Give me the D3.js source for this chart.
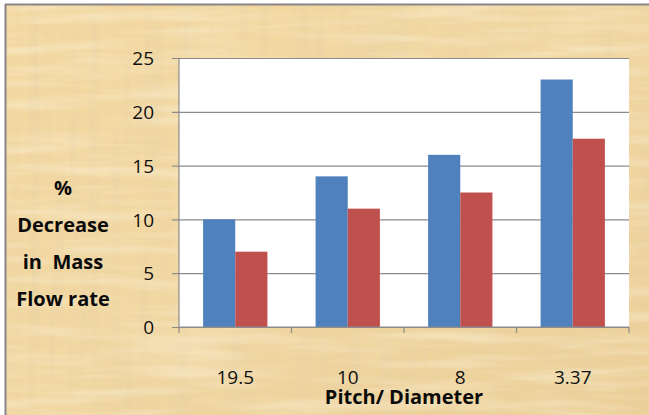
<!DOCTYPE html>
<html>
<head>
<meta charset="utf-8">
<script src="https://cdn.jsdelivr.net/npm/d3@7"></script>
<style>
  html, body { margin: 0; padding: 0; background: #fff; }
  svg { display: block; }
</style>
</head>
<body>
<svg></svg>
<script>
var w = 649;
var h = 415;

// chart values
var categories = ["19.5", "10", "8", "3.37"];
var seriesA = [10, 14, 16, 23];      // blue
var seriesB = [7, 11, 12.5, 17.5];   // red
var yTicks = [0, 5, 10, 15, 20, 25];
var yTitle = ["%", "Decrease", "in  Mass", "Flow rate"];
var xTitle = "Pitch/ Diameter";

var plot = {left: 179, right: 629, top: 58, bottom: 327};
var font = "'Open Sans', 'Noto Sans', sans-serif";

var svg = d3.select("svg")
    .attr("width", w)
    .attr("height", h);

// parchment texture (feTurbulence streaks over a tan base)
var defs = svg.append("defs");
var bg = defs.append("linearGradient")
    .attr("id", "paper")
    .attr("x1", "0%").attr("y1", "0%")
    .attr("x2", "100%").attr("y2", "100%");
bg.append("stop").attr("offset", "0%").attr("stop-color", "#f3d8a0");
bg.append("stop").attr("offset", "50%").attr("stop-color", "#f1d7a2");
bg.append("stop").attr("offset", "100%").attr("stop-color", "#ebcf98");

var f1 = defs.append("filter").attr("id", "fibersV")
    .attr("x", 0).attr("y", 0).attr("width", "100%").attr("height", "100%");
f1.append("feTurbulence")
    .attr("type", "fractalNoise")
    .attr("baseFrequency", "0.1 0.006")
    .attr("numOctaves", 3)
    .attr("seed", 4);
f1.append("feColorMatrix")
    .attr("type", "matrix")
    .attr("values", "0 0 0 0 0.80  0 0 0 0 0.64  0 0 0 0 0.38  2.4 0 0 0 -1.0");

var f2 = defs.append("filter").attr("id", "fibersH")
    .attr("x", 0).attr("y", 0).attr("width", "100%").attr("height", "100%");
f2.append("feTurbulence")
    .attr("type", "fractalNoise")
    .attr("baseFrequency", "0.008 0.09")
    .attr("numOctaves", 3)
    .attr("seed", 11);
f2.append("feColorMatrix")
    .attr("type", "matrix")
    .attr("values", "0 0 0 0 1  0 0 0 0 0.94  0 0 0 0 0.78  2.2 0 0 0 -0.9");

svg.append("rect")
    .attr("x", 5).attr("y", 4)
    .attr("width", w - 5).attr("height", h - 4)
    .style("fill", "url(#paper)");
svg.append("rect")
    .attr("x", 5).attr("y", 4)
    .attr("width", w - 5).attr("height", h - 4)
    .attr("opacity", 0.55)
    .attr("filter", "url(#fibersV)");
svg.append("rect")
    .attr("x", 5).attr("y", 4)
    .attr("width", w - 5).attr("height", h - 4)
    .attr("opacity", 0.38)
    .attr("filter", "url(#fibersH)");

// grey frame on top and left
svg.append("line")
    .attr("x1", 5).attr("x2", w).attr("y1", 4.5).attr("y2", 4.5)
    .attr("stroke", "#8a8388").attr("stroke-width", 2);
svg.append("line")
    .attr("x1", 5.5).attr("x2", 5.5).attr("y1", 4).attr("y2", h)
    .attr("stroke", "#8a8388").attr("stroke-width", 2);

// scales
var x0 = d3.scaleBand()
    .domain(categories)
    .range([plot.left, plot.right])
    .paddingInner(0)
    .paddingOuter(0);
var x1 = d3.scaleBand()
    .domain(["a", "b"])
    .range([0, x0.bandwidth()])
    .paddingOuter(0.75)
    .paddingInner(0);
var y = d3.scaleLinear()
    .domain([0, 25])
    .range([plot.bottom, plot.top]);

// plot area
svg.append("rect")
    .attr("x", plot.left).attr("y", plot.top)
    .attr("width", plot.right - plot.left)
    .attr("height", plot.bottom - plot.top)
    .attr("fill", "#fff");

// gridlines + y axis
var yAxis = d3.axisLeft(y)
    .tickValues(yTicks)
    .tickFormat(d3.format("d"));
var gy = svg.append("g")
    .attr("transform", "translate(" + plot.right + ",0)");
gy.call(yAxis.tickSize(plot.right - plot.left + 7));
gy.select(".domain").remove();
gy.selectAll(".tick line")
    .attr("stroke", "#8c8c8c")
    .attr("stroke-width", 1.2);
gy.selectAll(".tick text")
    .attr("x", -(plot.right - plot.left) - 25)
    .attr("dy", "0.35em")
    .attr("fill", "#111")
    .style("font-family", font)
    .style("font-size", "19px");

svg.append("line")
    .attr("x1", plot.left).attr("x2", plot.left)
    .attr("y1", plot.top).attr("y2", plot.bottom)
    .attr("stroke", "#8c8c8c").attr("stroke-width", 1.2);

// bars
var groups = svg.selectAll("g.cat")
    .data(categories)
    .join("g")
    .attr("class", "cat")
    .attr("transform", function(d) { return "translate(" + x0(d) + ",0)"; });

groups.append("rect")
    .attr("x", x1("a"))
    .attr("width", x1.bandwidth())
    .attr("y", function(d, i) { return y(seriesA[i]); })
    .attr("height", function(d, i) { return y(0) - y(seriesA[i]); })
    .attr("fill", "#4f81bd");

groups.append("rect")
    .attr("x", x1("b"))
    .attr("width", x1.bandwidth())
    .attr("y", function(d, i) { return y(seriesB[i]); })
    .attr("height", function(d, i) { return y(0) - y(seriesB[i]); })
    .attr("fill", "#c0504d");

// x axis with boundary ticks
var gx = svg.append("g")
    .attr("transform", "translate(0," + plot.bottom + ")");
gx.append("line")
    .attr("x1", plot.left).attr("x2", plot.right)
    .attr("stroke", "#8c8c8c").attr("stroke-width", 1.2);
var bounds = categories.map(function(d) { return x0(d); }).concat([plot.right]);
gx.selectAll("line.b")
    .data(bounds)
    .join("line")
    .attr("class", "b")
    .attr("x1", function(d) { return d; })
    .attr("x2", function(d) { return d; })
    .attr("y1", 0).attr("y2", 6)
    .attr("stroke", "#8c8c8c").attr("stroke-width", 1.2);
gx.selectAll("text.lab")
    .data(categories)
    .join("text")
    .attr("class", "lab")
    .attr("x", function(d) { return x0(d) + x0.bandwidth() / 2; })
    .attr("y", 57)
    .attr("text-anchor", "middle")
    .attr("fill", "#111")
    .style("font-family", font)
    .style("font-size", "19px")
    .text(function(d) { return d; });

// axis titles
svg.append("text")
    .attr("x", 404)
    .attr("y", 404)
    .attr("text-anchor", "middle")
    .attr("fill", "#0a0a0a")
    .style("font-family", font)
    .style("font-weight", "bold")
    .style("font-size", "20px")
    .text(xTitle);

svg.selectAll("text.ytitle")
    .data(yTitle)
    .join("text")
    .attr("class", "ytitle")
    .attr("x", 63)
    .attr("y", function(d, i) { return 195 + i * 37; })
    .attr("text-anchor", "middle")
    .attr("fill", "#0a0a0a")
    .style("font-family", font)
    .style("font-weight", "bold")
    .style("font-size", "20px")
    .style("white-space", "pre")
    .text(function(d) { return d; });
</script>
</body>
</html>
